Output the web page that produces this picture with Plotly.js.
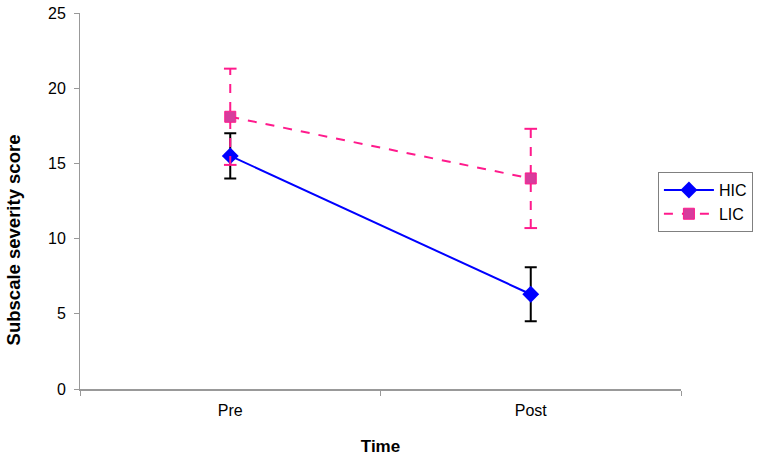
<!DOCTYPE html>
<html>
<head>
<meta charset="utf-8">
<script src="https://cdn.plot.ly/plotly-3.0.1.min.js"></script>
<style>html,body{margin:0;padding:0;background:#fff;}#chart{width:764px;height:457px;}</style>
</head>
<body>
<div id="chart"></div>
<script>
const categories = ["Pre", "Post"];
const hicMean = [15.5, 6.3];
const hicErr = [1.5, 1.8];
const licMean = [18.1, 14.0];
const licErr = [3.2, 3.3];
const yTicks = [0, 5, 10, 15, 20, 25];

const licColor = "#FF1A8C";
const licMarker = "#D63C9C";

// dashed LIC error bar stems built from data
const stemX = [], stemY = [], capX = [], capY = [];
categories.forEach((c, i) => {
  stemX.push(c, c, null);
  stemY.push(licMean[i] - licErr[i], licMean[i] + licErr[i], null);
  capX.push(c, c);
  capY.push(licMean[i] - licErr[i], licMean[i] + licErr[i]);
});

const traces = [
  {
    x: categories, y: hicMean, name: "HIC", type: "scatter", mode: "lines+markers",
    line: {color: "#0000FF", width: 2},
    marker: {symbol: "diamond", size: 13, color: "#0000FF"},
    error_y: {type: "data", array: hicErr, visible: true, color: "#000000", thickness: 2, width: 6}
  },
  {
    x: stemX, y: stemY, type: "scatter", mode: "lines", showlegend: false, hoverinfo: "skip",
    line: {color: licColor, width: 2, dash: "dash"}
  },
  {
    x: capX, y: capY, type: "scatter", mode: "markers", showlegend: false, hoverinfo: "skip",
    marker: {symbol: "line-ew-open", size: 9, color: licColor, line: {color: licColor, width: 2}}
  },
  {
    x: categories, y: licMean, name: "LIC", type: "scatter", mode: "lines+markers",
    line: {color: licColor, width: 2, dash: "dash"},
    marker: {symbol: "square", size: 11, color: licMarker, line: {color: licColor, width: 1}}
  }
];

const layout = {
  width: 764, height: 457,
  margin: {l: 80, r: 82, t: 13, b: 68},
  paper_bgcolor: "#fff", plot_bgcolor: "#fff",
  font: {family: "Liberation Sans, Arial, sans-serif", size: 16, color: "#000"},
  showlegend: true,
  legend: {
    x: 0.96, y: 0.577, xanchor: "left", yanchor: "top",
    bordercolor: "#808080", borderwidth: 1, bgcolor: "#fff",
    font: {size: 16}, itemwidth: 50
  },
  xaxis: {
    type: "category", range: [-0.5, 1.5],
    showline: true, linecolor: "#999999", linewidth: 2,
    ticks: "outside", tickson: "boundaries", ticklen: 5, tickcolor: "#999999",
    ticklabelstandoff: 6,
    showgrid: false, zeroline: false,
    title: {text: "<b>Time</b>", font: {size: 17}, standoff: 22}
  },
  yaxis: {
    range: [0, 25], tickvals: yTicks,
    showline: true, linecolor: "#999999", linewidth: 1,
    ticks: "outside", ticklen: 5, tickcolor: "#999999",
    ticklabelstandoff: 5,
    showgrid: false, zeroline: false
  },
  annotations: [{
    text: "<b>Subscale severity score</b>", textangle: -90,
    xref: "paper", yref: "paper", x: -0.111, y: 0.396,
    xanchor: "center", yanchor: "middle", showarrow: false,
    font: {size: 18.5}
  }]
};

Plotly.newPlot("chart", traces, layout, {displayModeBar: false, staticPlot: true});
</script>
</body>
</html>
